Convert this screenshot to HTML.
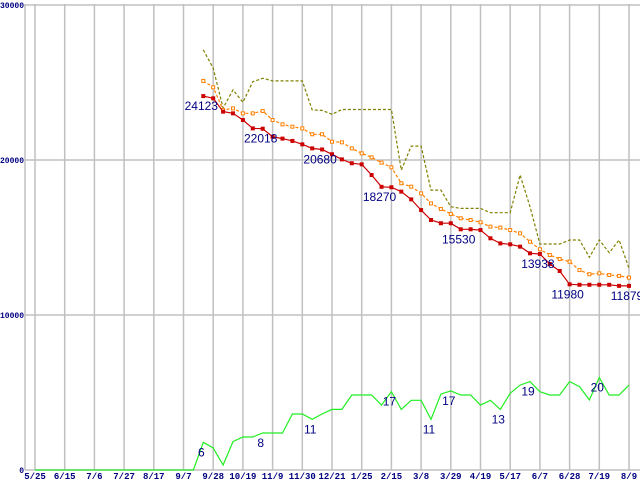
<!DOCTYPE html>
<html><head><meta charset="utf-8">
<style>
html,body{margin:0;padding:0;background:#fff;}
svg{display:block;}
.tick{font-family:"Liberation Mono",monospace;font-size:9px;font-weight:bold;fill:#000080;}
.ytick{font-family:"Liberation Mono",monospace;font-size:8px;font-weight:bold;fill:#000080;}
.lbl{font-family:"Liberation Sans",sans-serif;font-size:12px;fill:#000080;}
</style></head>
<body>
<svg id="chart" width="640" height="480" xmlns="http://www.w3.org/2000/svg"></svg>
<script>
const xLabels=["5/25","6/15","7/6","7/27","8/17","9/7","9/28","10/19","11/9","11/30","12/21","1/25","2/15","3/8","3/29","4/19","5/17","6/7","6/28","7/19","8/9"];
const yTicks=[0,10000,20000,30000];
const greenStart=0;
const greenValues=[0,0,0,0,0,0,0,0,0,0,0,0,0,0,0,0,0,1790,1420,320,1830,2130,2130,2390,2390,2390,3610,3610,3270,3610,3910,3910,4840,4840,4840,4190,5050,3910,4500,4500,3270,4900,5100,4840,4840,4190,4500,3910,4950,5480,5700,5050,4840,4840,5700,5380,4520,5960,4840,4840,5480];
const seriesStart=17;
const redValues=[24123,23980,23120,23010,22580,22040,22018,21500,21380,21230,21010,20750,20680,20370,20040,19790,19720,19030,18270,18240,17960,17460,16770,16130,15920,15920,15530,15530,15480,14950,14620,14560,14410,13980,13938,13290,12840,11980,11950,11950,11950,11950,11879,11879];
const orangeValues=[25100,24690,23230,23330,23010,23010,23160,22580,22300,22150,22040,21660,21660,21180,21140,20750,20430,20170,19830,19530,18500,18280,17850,17200,16840,16520,16240,16130,15980,15700,15640,15480,15270,14730,14240,13870,13610,13440,12900,12630,12690,12580,12520,12410];
const oliveValues=[27100,25920,23350,24520,23720,25050,25270,25100,25100,25100,25100,23230,23200,22950,23260,23260,23260,23260,23260,23260,19350,20900,20900,18060,18060,16990,16880,16880,16880,16600,16600,16600,19030,16990,14580,14580,14580,14840,14840,13720,14840,14020,14840,13010];
const redLabelIdx=[0,6,12,18,26,34,37,43];
const greenLabelText=["6","8","11","17","11","17","13","19","20"];
const greenLabelPos=[17,23,28,36,40,42,47,50,57];

const NS="http://www.w3.org/2000/svg";
const svg=document.getElementById("chart");
const X0=35, DX=9.9, Y0=470, YS=465/30000;
function xs(i){return X0+i*DX;}
function ys(v){return Y0-v*YS;}
function mk(tag,attrs,parent){const e=document.createElementNS(NS,tag);for(const k in attrs)e.setAttribute(k,attrs[k]);(parent||svg).appendChild(e);return e;}

const grid=mk("g",{});


xLabels.forEach((t,j)=>{
  const x=xs(j*3);
  const l=mk("line",{x1:x,x2:x,y1:4,y2:470,stroke:"#c0c0c0","stroke-width":1.5},grid);
  
  
  const tx=mk("text",{x:x,y:479,"text-anchor":"middle",class:"tick"});
  tx.textContent=t;
  
  
});
yTicks.forEach(v=>{
  const y=ys(v);
  const l=mk("line",{x1:25,x2:640,y1:y,y2:y,stroke:"#c0c0c0","stroke-width":1.5},grid);
  
  
  const tx=mk("text",{x:24,y:y+3,"text-anchor":"end",class:"ytick"});
  tx.textContent=String(v);
  
  
});
const ax=mk("line",{x1:25,x2:25,y1:4,y2:470,stroke:"#c0c0c0","stroke-width":1.5});



function pts(vals,start){return vals.map((v,i)=>xs(start+i).toFixed(1)+","+ys(v).toFixed(1)).join(" ");}
function line(vals,start,color,dash,name){
  const p=mk("polyline",{points:pts(vals,start),fill:"none",stroke:color,"stroke-width":1.2});
  if(dash)p.setAttribute("stroke-dasharray",dash);
  
  
}
line(oliveValues,seriesStart,"#808000","3,2","olive-series-line");
line(orangeValues,seriesStart,"#ff8000","3,2","orange-series-line");
orangeValues.forEach((v,i)=>{
  const r=mk("rect",{x:xs(seriesStart+i)-1.5,y:ys(v)-1.5,width:3,height:3,fill:"#fff",stroke:"#ff8000","stroke-width":1});
  
  
});
line(redValues,seriesStart,"#cc0000",null,"red-series-line");
redValues.forEach((v,i)=>{
  const r=mk("rect",{x:xs(seriesStart+i)-2,y:ys(v)-2,width:4,height:4,fill:"#cc0000"});
  
  
});
line(greenValues,greenStart,"#22ee22",null,"green-series-line");

redLabelIdx.forEach(k=>{
  const t=mk("text",{x:xs(seriesStart+k)-2,y:ys(redValues[k])+14,"text-anchor":"middle",class:"lbl"});
  t.textContent=String(redValues[k]);
  
  
});
greenLabelPos.forEach((k,j)=>{
  const t=mk("text",{x:xs(greenStart+k)-2,y:ys(greenValues[k])+14,"text-anchor":"middle",class:"lbl"});
  t.textContent=greenLabelText[j];
  
  
});
</script>
</body></html>
